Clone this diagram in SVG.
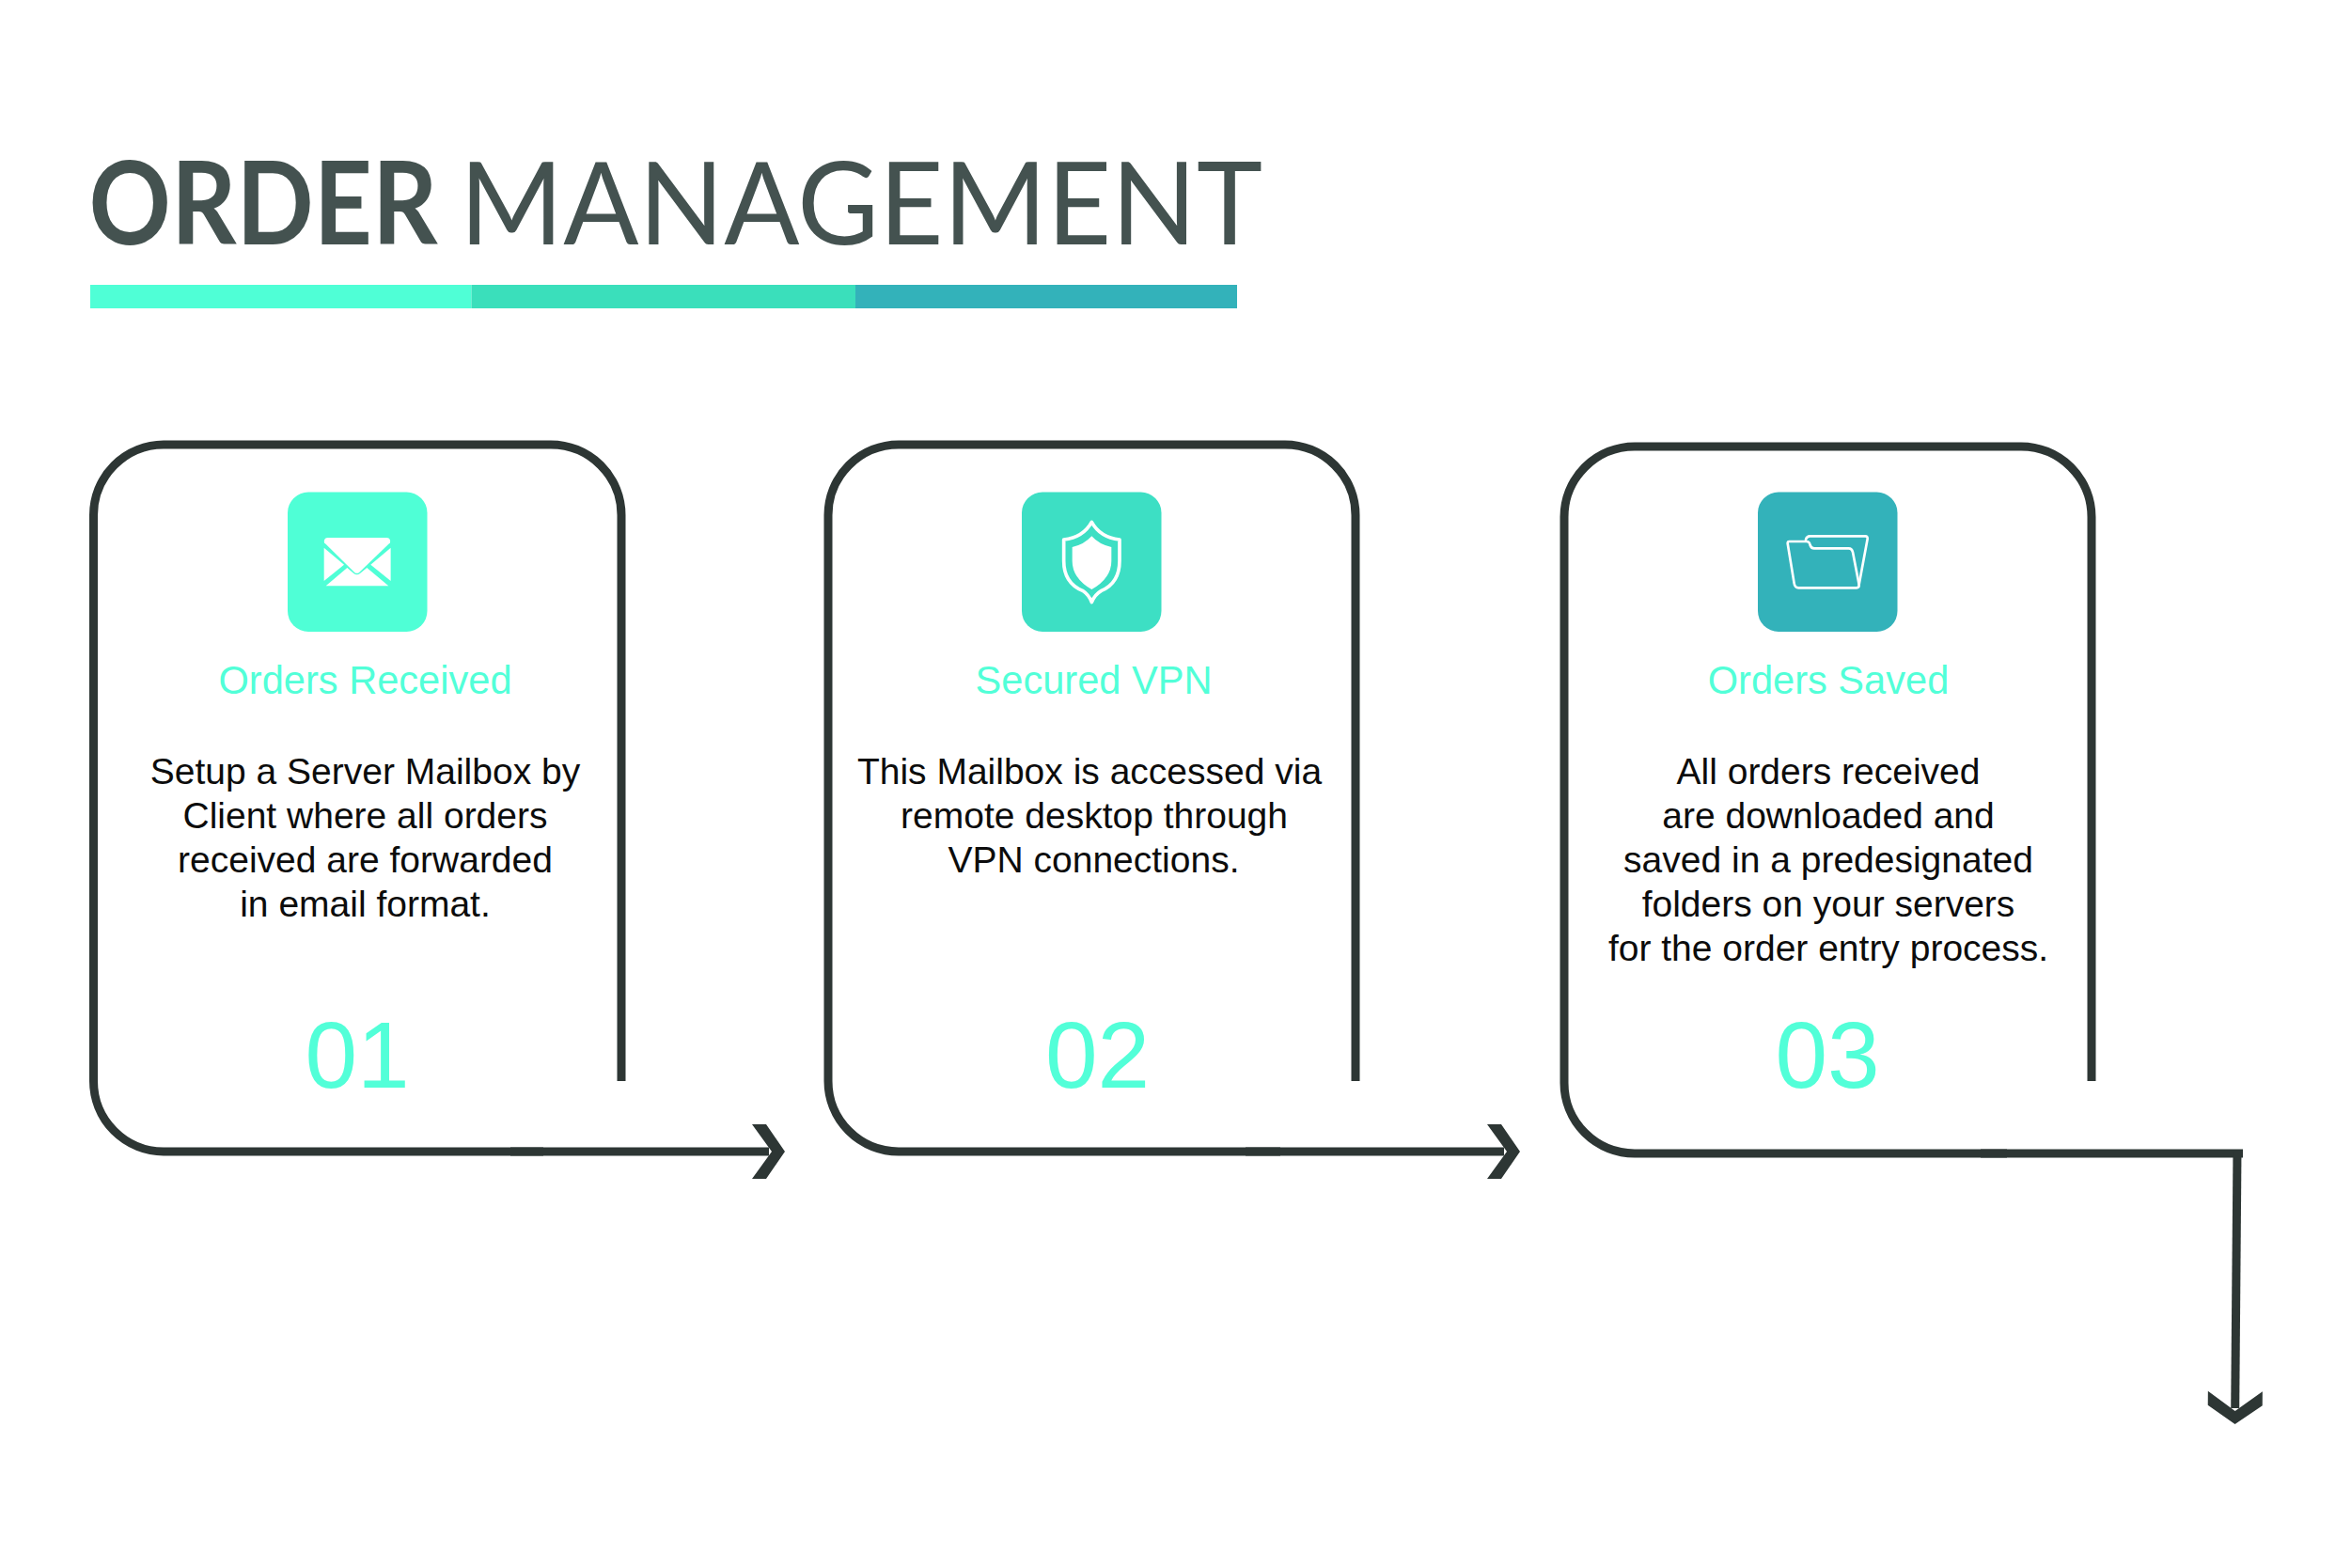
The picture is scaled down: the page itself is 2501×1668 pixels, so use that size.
<svg xmlns="http://www.w3.org/2000/svg" width="2501" height="1668" viewBox="0 0 2501 1668">
<style>
text{font-family:"Liberation Sans",Arial,sans-serif;text-anchor:middle}
.title{font-family:Lato,"Liberation Sans",sans-serif;font-size:122px;fill:#445250;text-anchor:start}
.label{font-size:41.600px;fill:#52ffd8}
.body{font-size:39px;fill:#0c0c0c}
.num{font-size:100px;fill:#52ffd8}
.line{fill:none;stroke:#2d3634;stroke-width:9}
.ico{fill:none;stroke:#fff;stroke-linejoin:round;stroke-linecap:round}
</style>
<defs>
<marker id="chev" markerUnits="userSpaceOnUse" markerWidth="36" markerHeight="58" refX="18" refY="29" orient="auto" overflow="visible">
<path d="M0 0H15L35 29L15 58H0L21 29Z" fill="#2d3634"/>
</marker>
</defs>
<rect width="2501" height="1668" fill="#fff"/>
<g id="title">
<text class="title" x="94.500" y="260" font-weight="700" textLength="371" lengthAdjust="spacingAndGlyphs">ORDER</text>
<text class="title" x="489" y="260" font-weight="400" textLength="854" lengthAdjust="spacingAndGlyphs">MANAGEMENT</text>
<rect x="96" y="303" width="405.500" height="25" fill="#4fffd6"/>
<rect x="501.500" y="303" width="408.500" height="25" fill="#3adfbb"/>
<rect x="910" y="303" width="406" height="25" fill="#33b2ba"/>
</g>
<g id="connectors">
<path class="line" d="M543 1225H818" marker-end="url(#chev)"/>
<path class="line" d="M1325 1225H1600" marker-end="url(#chev)"/>
<path class="line" d="M2107 1227H2386"/>
<path class="line" d="M2380 1223L2377.700 1498" marker-end="url(#chev)"/>
</g>
<g id="node-1">
<path class="line" d="M661 1150V548A75 75 0 0 0 586 473H174A75 75 0 0 0 99.500 548V1150A75 75 0 0 0 174 1225H578"/>
<rect x="306" y="523.500" width="148.500" height="148.500" rx="22" fill="#4fffd6"/>
<g transform="translate(280 500) scale(.3333)" fill="#fff">
<path d="M205 216H395Q408 218 405 232L307 326Q299 333 291 326L195 232Q192 218 205 216Z"/>
<path d="M194 248L258 302L194 354Z"/>
<path d="M407 248L343 302L407 354Z"/>
<path d="M200 370L268 312L289 330Q299 338 309 330L331 312L400 370Z"/>
</g>
<text class="label" x="388.500" y="738">Orders Received</text>
<text class="body" x="388.500" y="834">Setup a Server Mailbox by</text>
<text class="body" x="388.500" y="881">Client where all orders</text>
<text class="body" x="388.500" y="927.500">received are forwarded</text>
<text class="body" x="388.500" y="974.500">in email format.</text>
<text class="num" x="380" y="1156.500">01</text>
</g>
<g id="node-2">
<path class="line" d="M1442 1150V548A75 75 0 0 0 1367 473H956A75 75 0 0 0 881 548V1150A75 75 0 0 0 956 1225H1362"/>
<rect x="1087" y="523.500" width="148.500" height="148.500" rx="22" fill="#3ddfc4"/>
<g transform="translate(1065 500) scale(.3333)">
<path class="ico" stroke-width="11" d="M289 166Q262 215 200 222V290Q200 360 260 385Q280 398 289 422Q298 398 320 385Q378 360 378 290V222Q316 215 289 166Z"/>
<path fill="#fff" d="M289 211Q265 238 227 246V290Q227 345 289 381Q352 345 352 290V246Q313 238 289 211Z"/>
</g>
<text class="label" x="1163.500" y="738">Secured VPN</text>
<text class="body" x="1159" y="834">This Mailbox is accessed via</text>
<text class="body" x="1164" y="881">remote desktop through</text>
<text class="body" x="1163.500" y="927.500">VPN connections.</text>
<text class="num" x="1167.500" y="1156.500">02</text>
</g>
<g id="node-3">
<path class="line" d="M2225 1150V550A75 75 0 0 0 2150 475H1739A75 75 0 0 0 1664 550V1152A75 75 0 0 0 1739 1227H2135"/>
<rect x="1870" y="523.500" width="148.500" height="148.500" rx="22" fill="#33b2ba"/>
<g transform="translate(1850 500) scale(.3333)">
<path class="ico" stroke-width="8" d="M160 228H215Q225 228 227 240Q230 250 240 250H350Q360 250 363 262L383 365Q384 376 375 376H190Q178 376 176 362L155 234Q155 228 160 228Z"/>
<path class="ico" stroke-width="8" d="M213 222Q216 211 226 211H403Q411 211 410 220L383 365"/>
</g>
<text class="label" x="1945" y="738">Orders Saved</text>
<text class="body" x="1945" y="834">All orders received</text>
<text class="body" x="1945" y="881">are downloaded and</text>
<text class="body" x="1945" y="927.500">saved in a predesignated</text>
<text class="body" x="1945" y="974.500">folders on your servers</text>
<text class="body" x="1945" y="1022">for the order entry process.</text>
<text class="num" x="1944" y="1156.500">03</text>
</g>
</svg>
